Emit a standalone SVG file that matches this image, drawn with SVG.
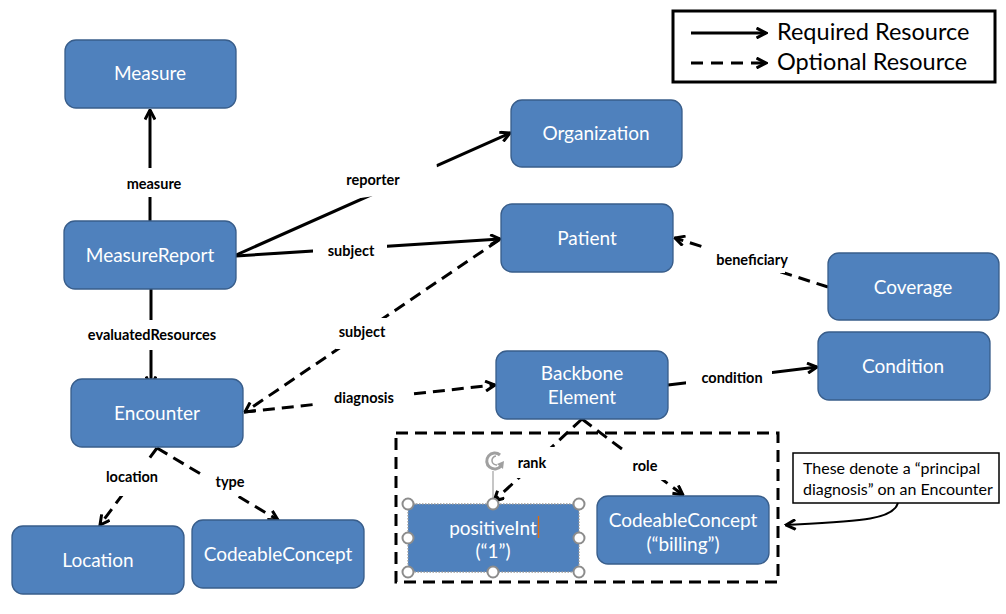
<svg xmlns="http://www.w3.org/2000/svg" width="1006" height="614" viewBox="0 0 1006 614">
<defs>
<marker id="ah" viewBox="0 0 12 12" refX="10.5" refY="6" markerWidth="12" markerHeight="12" markerUnits="userSpaceOnUse" orient="auto">
<path d="M1,1 L10.5,6 L1,11" fill="none" stroke="#000" stroke-width="3" stroke-linejoin="miter"/>
</marker>
<style>
.node rect{fill:#4F81BD;stroke:#385D8A;stroke-width:1.3}
.node text{fill:#fff;font-family:Lato,"Open Sans",sans-serif;font-size:19px;text-anchor:middle}
.req{fill:none;stroke:#000;stroke-width:3;marker-end:url(#ah)}
.opt{fill:none;stroke:#000;stroke-width:3;stroke-dasharray:12 7;marker-end:url(#ah)}
.lbl rect{fill:#fff}
.lbl text{font-family:Lato,"Open Sans",sans-serif;font-weight:bold;font-size:14.5px;text-anchor:middle;fill:#000}
.hdl{fill:#fff;stroke:#8c8c8c;stroke-width:2}
</style>
</defs>
<rect width="1006" height="614" fill="#fff"/>

<g id="connectors">
<path class="req" d="M150,221 L150,110"/>
<path class="req" d="M151,289 L151,386"/>
<path class="req" d="M236,255 L510,133"/>
<path class="req" d="M236,256 L500,239"/>
<path class="opt" d="M499,240 L245,412"/>
<path class="opt" d="M244,412 L495,385"/>
<path class="req" d="M668,385 L817,367"/>
<path class="opt" d="M828,287 L675,238"/>
<path class="opt" d="M157,448 L100,525"/>
<path class="opt" d="M157,448 L278,520"/>
<path class="opt" d="M582,419 L494,501"/>
<path class="opt" d="M582,419 L683,495"/>
</g>

<g id="labels" class="lbl">
<rect x="118" y="168" width="64" height="29"/><text x="154" y="189">measure</text>
<rect x="82" y="320" width="140" height="30"/><text x="152" y="340">evaluatedResources</text>
<rect x="336" y="163" width="102" height="31" transform="rotate(-8 388 178)"/><text x="373" y="185">reporter</text>
<rect x="313" y="238" width="74" height="24"/><text x="351" y="256">subject</text>
<rect x="336" y="318" width="54" height="31"/><text x="362" y="337">subject</text>
<rect x="316" y="386" width="94" height="22"/><text x="364" y="403">diagnosis</text>
<rect x="686" y="366" width="86" height="24"/><text x="732" y="383">condition</text>
<rect x="701" y="247" width="84" height="26"/><text x="752" y="265">beneficiary</text>
<rect x="102" y="462" width="60" height="34"/><text x="132" y="482">location</text>
<rect x="203" y="472" width="50" height="24"/><text x="230" y="487">type</text>
<rect x="513" y="447" width="44" height="31"/><text x="532" y="468">rank</text>
<rect x="624" y="450" width="44" height="30"/><text x="645" y="471">role</text>
</g>

<g id="measure" class="node"><rect x="65" y="40" width="171" height="68" rx="11"/><text x="150" y="80">Measure</text></g>
<g id="organization" class="node"><rect x="511" y="100" width="171" height="67" rx="11"/><text x="596" y="140">Organization</text></g>
<g id="measurereport" class="node"><rect x="64" y="221" width="172" height="68" rx="11"/><text x="150" y="262">MeasureReport</text></g>
<g id="patient" class="node"><rect x="501" y="204" width="172" height="68" rx="11"/><text x="587" y="245">Patient</text></g>
<g id="coverage" class="node"><rect x="828" y="253" width="171" height="67" rx="11"/><text x="913" y="294">Coverage</text></g>
<g id="condition" class="node"><rect x="818" y="332" width="172" height="68" rx="11"/><text x="903" y="373">Condition</text></g>
<g id="backbone" class="node"><rect x="496" y="351" width="172" height="68" rx="11"/><text x="582" y="380">Backbone</text><text x="582" y="404">Element</text></g>
<g id="encounter" class="node"><rect x="71" y="379" width="172" height="68" rx="11"/><text x="157" y="420">Encounter</text></g>
<g id="location" class="node"><rect x="12" y="526" width="172" height="68" rx="11"/><text x="98" y="567">Location</text></g>
<g id="codeableconcept" class="node"><rect x="192" y="520" width="172" height="68" rx="11"/><text x="278" y="561">CodeableConcept</text></g>
<g id="codeableconcept-billing" class="node"><rect x="597" y="496" width="172" height="68" rx="11"/><text x="683" y="527">CodeableConcept</text><text x="683" y="551">(“billing”)</text></g>
<g id="positiveint" class="node"><rect x="408" y="504" width="171" height="68" rx="8" style="stroke:#9a9a9a;stroke-dasharray:1.5 1.5"/><text x="493" y="535">positiveInt</text><text x="493" y="558">(“1”)</text>
<line x1="538.5" y1="516" x2="538.5" y2="538" stroke="#E46C0A" stroke-width="1.3"/>
</g>

<g id="selection">
<line x1="493" y1="471" x2="493" y2="504" stroke="#a0a0a0" stroke-width="1.2"/>
<path d="M500,455 A8,8 0 1 0 501,466" fill="none" stroke="#a0a0a0" stroke-width="3"/>
<path d="M497,464 L503,469 L504,461 Z" fill="#a0a0a0"/>
<path d="M496,456 A4,4 0 1 0 497,465" fill="none" stroke="#a0a0a0" stroke-width="1.5"/>
<circle class="hdl" cx="408" cy="504" r="5.5"/>
<circle class="hdl" cx="493" cy="504" r="5.5"/>
<circle class="hdl" cx="579" cy="504" r="5.5"/>
<circle class="hdl" cx="408" cy="538" r="5.5"/>
<circle class="hdl" cx="579" cy="538" r="5.5"/>
<circle class="hdl" cx="408" cy="572" r="5.5"/>
<circle class="hdl" cx="493" cy="572" r="5.5"/>
<circle class="hdl" cx="579" cy="572" r="5.5"/>
</g>

<g id="group-box">
<rect x="396" y="433" width="382" height="149" fill="none" stroke="#000" stroke-width="3" stroke-dasharray="12 7"/>
</g>

<g id="callout">
<rect x="793" y="453" width="206" height="50" fill="#fff" stroke="#000" stroke-width="1.5"/>
<text font-family="Lato,'Open Sans',sans-serif" font-size="16px" fill="#000"><tspan x="803" y="474">These denote a “principal</tspan><tspan x="803" y="495">diagnosis” on an Encounter</tspan></text>
<path d="M898,503 C893,520 860,521 786,525" fill="none" stroke="#000" stroke-width="2" marker-end="url(#ah)"/>
</g>

<g id="legend">
<rect x="673" y="11" width="322" height="71" fill="#fff" stroke="#000" stroke-width="3"/>
<line x1="691" y1="33" x2="766" y2="33" stroke="#000" stroke-width="3" marker-end="url(#ah)"/>
<line x1="691" y1="63" x2="766" y2="63" stroke="#000" stroke-width="3" stroke-dasharray="12 8" marker-end="url(#ah)"/>
<text x="777" y="40" font-family="Lato,'Open Sans',sans-serif" font-size="23.5px" fill="#000">Required Resource</text>
<text x="777" y="70" font-family="Lato,'Open Sans',sans-serif" font-size="23.5px" fill="#000">Optional Resource</text>
</g>
</svg>
